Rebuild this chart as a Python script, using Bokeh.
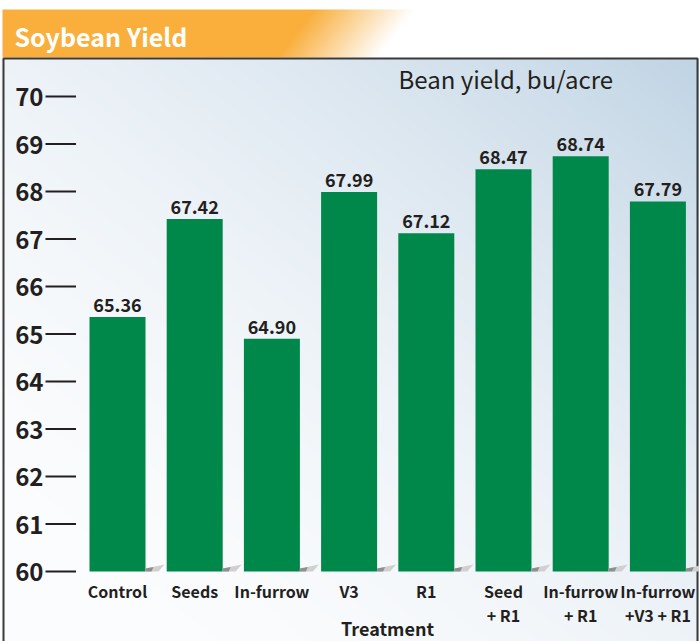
import numpy as np
from bokeh.plotting import figure
from bokeh.models import Range1d
from bokeh.embed import file_html
from bokeh.resources import INLINE
from bokeh.core.properties import value

# ---------------- data ----------------
categories = ["Control", "Seeds", "In-furrow", "V3", "R1",
              "Seed\n+ R1", "In-furrow\n+ R1", "In-furrow\n+V3 + R1"]
yields = [65.36, 67.42, 64.90, 67.99, 67.12, 68.47, 68.74, 67.79]
value_labels = ["65.36", "67.42", "64.90", "67.99", "67.12", "68.47", "68.74", "67.79"]
y_ticks = [60, 61, 62, 63, 64, 65, 66, 67, 68, 69, 70]
y_tick_labels = [str(t) for t in y_ticks]
title_text = "Soybean Yield"
units_text = "Bean yield, bu/acre"
x_title = "Treatment"
BASE = 60

# ---------------- layout ----------------
W, H = 699, 641
TB = -8  # text baseline correction (screen px)


def fx(rx):
    return rx


def fy(ry):
    return H - ry


p60, p70 = fy(571), fy(96)
ppu_y = (p70 - p60) / 10.0
y_start = 60 - p60 / ppu_y
y_end = 70 + (H - p70) / ppu_y

c0 = fx(117)
ppu_x = 77.2
x_start = -c0 / ppu_x
x_end = (W - c0) / ppu_x

FONT = value("Noto Sans CJK SC")
DARK = "#231f20"
GREEN = "#00884a"

p = figure(width=W, height=H, x_range=Range1d(x_start, x_end), y_range=Range1d(y_start, y_end),
           output_backend="svg", toolbar_location=None, x_axis_location=None, y_axis_location=None,
           min_border=0, tools="")
p.extra_x_ranges = {"px": Range1d(0, W)}
p.extra_y_ranges = {"py": Range1d(0, H)}
p.outline_line_color = None
p.background_fill_color = "white"
p.border_fill_color = "white"
p.xgrid.grid_line_color = None
p.ygrid.grid_line_color = None

# ---- chart box background gradient ----
box_top = fy(58)
bh = int(round(box_top))
bw = W
X, Y = np.meshgrid(np.linspace(0, 1, bw), np.linspace(0, 1, bh))
u = (X + Y) / 2.0
t = np.clip(u, 0, 1) ** 2
white = np.array([252, 253, 254])
blue = np.array([192, 212, 228])
img = np.empty((bh, bw), dtype=np.uint32)
view = img.view(dtype=np.uint8).reshape((bh, bw, 4))
for k in range(3):
    view[:, :, k] = (white[k] + (blue[k] - white[k]) * t).astype(np.uint8)
view[:, :, 3] = 255
p.image_rgba(image=[img], x=0, y=0, dw=W, dh=bh, x_range_name="px", y_range_name="py")

# ---- title bar gradient ----
tb_bottom = fy(57)
tb_top = fy(9)
th = int(round(tb_top - tb_bottom))
xs_px = np.arange(W) + 0.5
ys_px = tb_bottom + np.arange(th) + 0.5
XX, YY = np.meshgrid(xs_px, ys_px)
RX = XX
RY = H - YY
start = 313 - (RY - 9) * 38.0 / 48.0
tt = np.clip((RX - start) / 100.0, 0, 1)
orange = np.array([250, 175, 60])
w2 = np.array([255, 255, 255])
img2 = np.empty((th, W), dtype=np.uint32)
v2 = img2.view(dtype=np.uint8).reshape((th, W, 4))
for k in range(3):
    v2[:, :, k] = (orange[k] + (w2[k] - orange[k]) * tt).astype(np.uint8)
v2[:, :, 3] = 255
p.image_rgba(image=[img2], x=fx(2), y=tb_bottom, dw=W - 2, dh=th, x_range_name="px", y_range_name="py")

# ---- box border ----
p.line(x=[fx(3), fx(3), fx(697), fx(697)], y=[0, box_top, box_top, 0], x_range_name="px", y_range_name="py",
       line_color="#3a3a3a", line_width=2)

# ---- bars ----
idx = list(range(len(categories)))
BW = 56 / ppu_x
p.vbar(x=idx, top=yields, bottom=BASE, width=BW, fill_color=GREEN, line_color=None)

# small shadows at bar feet
dx = 1.0 / ppu_x
dy = 1.0 / ppu_y
light_xs, light_ys, dark_xs, dark_ys = [], [], [], []
for i in idx:
    xr = i + BW / 2
    light_xs.append([xr, xr, xr + 19 * dx, xr + 13 * dx])
    light_ys.append([BASE, BASE + 3 * dy, BASE + 7 * dy, BASE])
    dark_xs.append([xr, xr, xr + 8 * dx, xr + 6 * dx])
    dark_ys.append([BASE, BASE + 3 * dy, BASE + 4.5 * dy, BASE])
p.patches(xs=light_xs, ys=light_ys, fill_color="#d0d0d0", line_color=None)
p.patches(xs=dark_xs, ys=dark_ys, fill_color="#8f8f8f", line_color=None)

# ---- value labels ----
p.text(x=idx, y=yields, text=value_labels, text_align="center", text_baseline="alphabetic",
       y_offset=-4 + TB, text_font=FONT, text_font_style="bold", text_font_size="18px", text_color=DARK)

# ---- y ticks ----
p.text(x=[fx(43)] * len(y_ticks), y=y_ticks, text=y_tick_labels, x_range_name="px",
       text_align="right", text_baseline="alphabetic", y_offset=8.5 + TB,
       text_font=FONT, text_font_style="bold", text_font_size="24px", text_color=DARK)
p.segment(x0=[fx(45)] * len(y_ticks), x1=[fx(75.5)] * len(y_ticks), y0=y_ticks, y1=y_ticks,
          x_range_name="px", line_color=DARK, line_width=2)

# ---- category labels ----
line1 = [c.split("\n")[0] for c in categories]
line2 = [c.split("\n")[1] if "\n" in c else "" for c in categories]
p.text(x=idx, y=[BASE] * len(idx), text=line1, text_align="center", text_baseline="alphabetic",
       y_offset=27 + TB, text_font=FONT, text_font_style="bold", text_font_size="16px", text_color=DARK)
p.text(x=idx, y=[BASE] * len(idx), text=line2, text_align="center", text_baseline="alphabetic",
       y_offset=51 + TB, text_font=FONT, text_font_style="bold", text_font_size="16px", text_color=DARK)

# ---- axis title, units, chart title ----
p.text(x=[fx(387)], y=[fy(635)], text=[x_title], x_range_name="px", y_range_name="py",
       text_align="center", text_baseline="alphabetic", y_offset=TB,
       text_font=FONT, text_font_style="bold", text_font_size="18px", text_color=DARK)
p.text(x=[fx(398)], y=[fy(86)], text=[units_text], x_range_name="px", y_range_name="py",
       text_align="left", text_baseline="alphabetic", y_offset=TB,
       text_font=FONT, text_font_size="24px", text_color=DARK)
p.text(x=[fx(14)], y=[fy(45)], text=[title_text], x_range_name="px", y_range_name="py",
       text_align="left", text_baseline="alphabetic", y_offset=TB - 2,
       text_font=FONT, text_font_style="bold", text_font_size="25px", text_color="white")

open("out.html", "w").write(file_html(p, INLINE))
